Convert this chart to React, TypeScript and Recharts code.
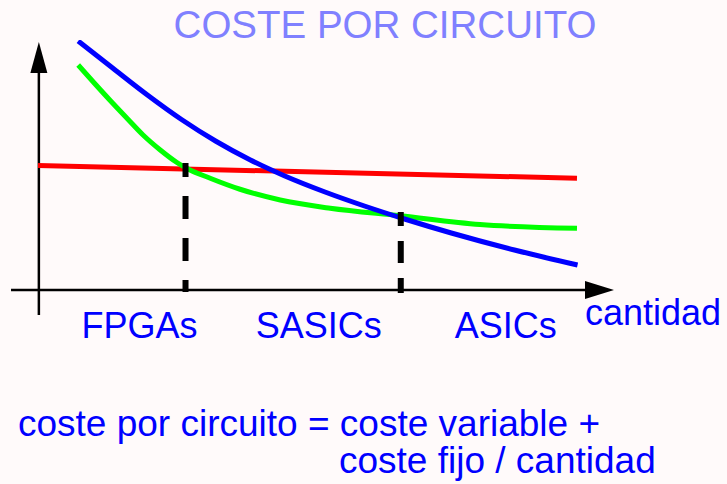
import React from 'react';
import { ComposedChart, Line, XAxis, YAxis, ReferenceLine, ReferenceDot } from 'recharts';

const FONT = '"Liberation Sans", Arial, sans-serif';

const blueX = [7, 13, 19, 25, 31, 37, 43, 50, 57, 64, 72, 83, 94];
const blueY = [99.6, 88.8, 78.1, 68.2, 59.5, 52.0, 45.6, 39.2, 33.5, 28.3, 22.8, 16.0, 10.0];

const greenX = [7.0, 9.6, 12.5, 15.5, 18.3, 21.3, 24.2, 25.9, 30.0, 35.2, 42.2, 50.9, 63.1, 77.0, 93.9];
const greenY = [90.0, 83.3, 76.0, 68.7, 62.0, 56.0, 51.0, 48.7, 44.7, 40.3, 36.0, 32.7, 29.7, 26.2, 24.7];

const redX = [0, 93.9];
const redY = [49.8, 44.7];

const tickValues = [17.7, 48.9, 81.5];
const tickLabels = ['FPGAs', 'SASICs', 'ASICs'];

const dividerX = [25.7, 63.2];
const dividerTop = [50.8, 31.2];

const title = 'COSTE POR CIRCUITO';
const axisName = 'cantidad';
const formulaLine1 = 'coste por circuito = coste variable +';
const formulaLine2 = 'coste fijo / cantidad';

const toPoints = (xs: number[], ys: number[]) => xs.map((x, i) => ({ x, y: ys[i] }));

const blueData = toPoints(blueX, blueY);
const greenData = toPoints(greenX, greenY);
const redData = toPoints(redX, redY);

const UpArrow = (props: any) => {
  const { cx, cy } = props;
  return <polygon points={`${cx},${cy} ${cx - 8.5},${cy + 31} ${cx + 8.5},${cy + 31}`} fill="#000" />;
};
const RightArrow = (props: any) => {
  const { cx, cy } = props;
  return <polygon points={`${cx},${cy} ${cx - 29},${cy - 9} ${cx - 29},${cy + 9}`} fill="#000" />;
};

export default function App() {
  return (
    <div style={{ position: 'absolute', left: 0, top: 0, width: 727, height: 484, background: '#fffafa' }}>
      <ComposedChart
        width={727}
        height={484}
        margin={{ top: 40, right: 115, bottom: 164, left: 38 }}
      >
        <XAxis
          type="number"
          dataKey="x"
          domain={[0, 100]}
          allowDataOverflow
          ticks={tickValues}
          tickFormatter={(v: number) => tickLabels[tickValues.indexOf(v)] ?? ''}
          axisLine={false}
          tickLine={false}
          tickSize={0}
          tickMargin={22}
          height={30}
          interval={0}
          tick={{ fill: '#0000ff', fontSize: 36, fontFamily: FONT }}
        />
        <YAxis type="number" domain={[0, 100]} hide width={0} allowDataOverflow />

        <ReferenceLine
          segment={[{ x: -4.7, y: 0 }, { x: 95.5, y: 0 }]}
          stroke="#000"
          strokeWidth={2.5}
          ifOverflow="visible"
        />
        <ReferenceLine
          segment={[{ x: 0.15, y: -10 }, { x: 0.15, y: 88 }]}
          stroke="#000"
          strokeWidth={2.5}
          ifOverflow="visible"
        />
        <ReferenceDot x={0.15} y={99.2} r={1} ifOverflow="visible" shape={UpArrow} />
        <ReferenceDot x={100.35} y={0} r={1} ifOverflow="visible" shape={RightArrow} />

        <Line data={redData} dataKey="y" type="linear" stroke="#ff0000" strokeWidth={5} dot={false} isAnimationActive={false} />
        <Line data={greenData} dataKey="y" type="monotone" stroke="#00ff00" strokeWidth={5} dot={false} isAnimationActive={false} />
        <Line data={blueData} dataKey="y" type="monotone" stroke="#0000ff" strokeWidth={5} dot={false} isAnimationActive={false} />

        <ReferenceLine
          segment={[{ x: dividerX[0], y: -0.8 }, { x: dividerX[0], y: dividerTop[0] }]}
          stroke="#000"
          strokeWidth={6}
          strokeDasharray="23 19"
          strokeDashoffset={11}
          ifOverflow="visible"
        />
        <ReferenceLine
          segment={[{ x: dividerX[1], y: -1.2 }, { x: dividerX[1], y: dividerTop[1] }]}
          stroke="#000"
          strokeWidth={6}
          strokeDasharray="22 15"
          strokeDashoffset={7}
          ifOverflow="visible"
        />

        <text x={385} y={38} textAnchor="middle" fill="#8080ff" fontSize={38.5} fontFamily={FONT}>{title}</text>
        <text x={585} y={325} fill="#0000ff" fontSize={36} fontFamily={FONT}>{axisName}</text>
        <text x={18} y={436} fill="#0000ff" fontSize={37} fontFamily={FONT}>{formulaLine1}</text>
        <text x={339} y={473} fill="#0000ff" fontSize={37} fontFamily={FONT}>{formulaLine2}</text>
      </ComposedChart>
    </div>
  );
}
